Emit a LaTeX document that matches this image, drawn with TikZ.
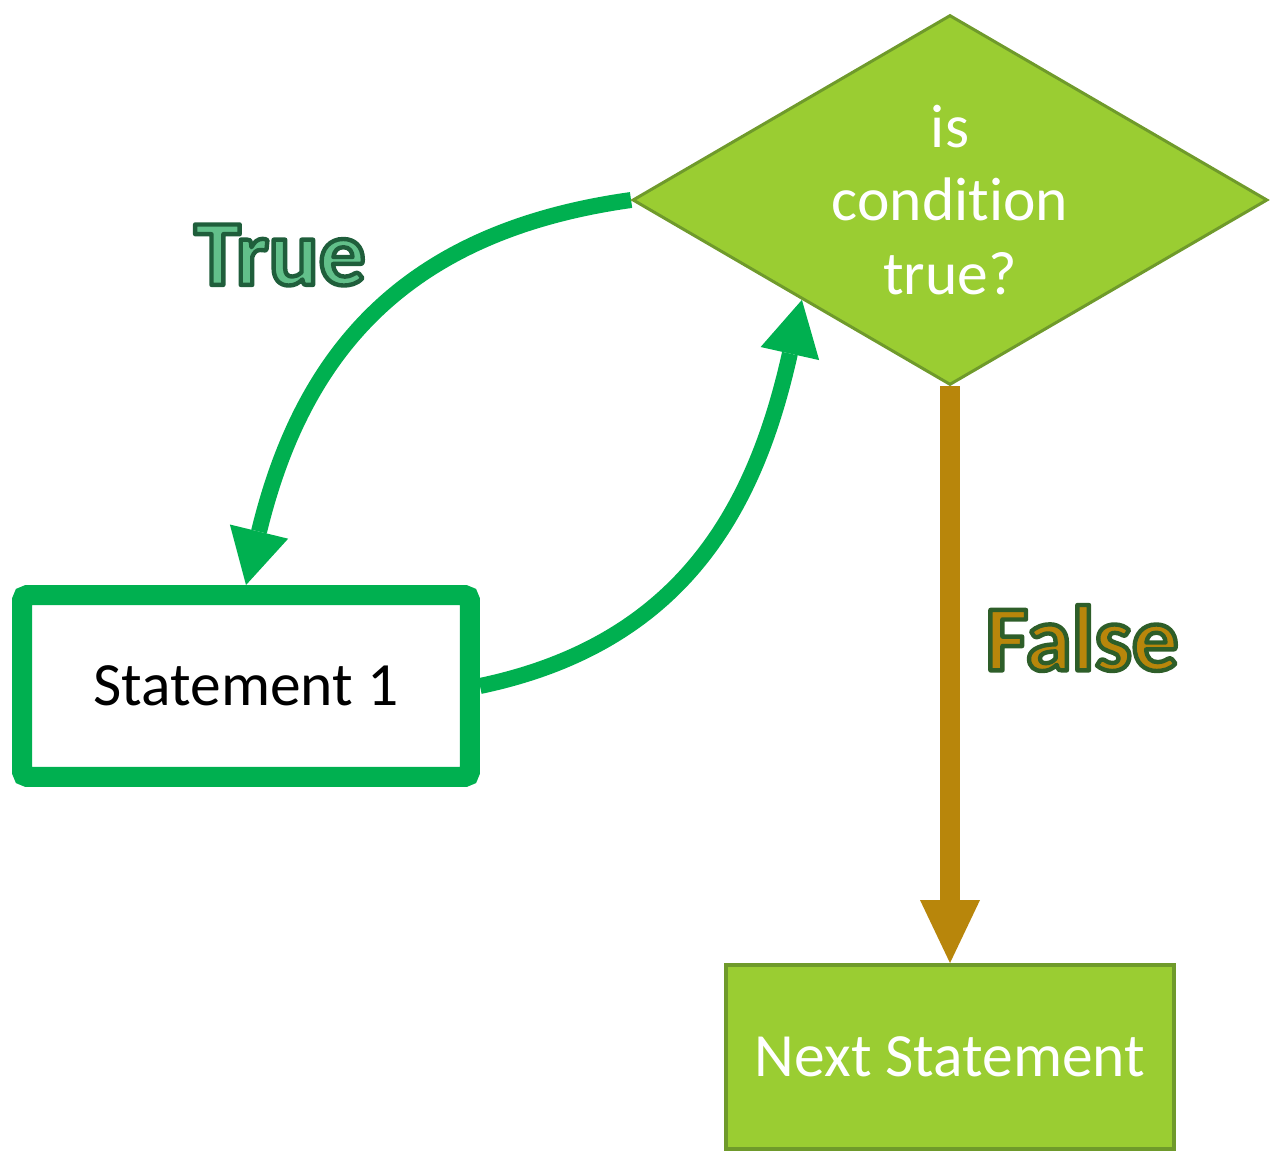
\documentclass[tikz,border=0pt]{standalone}
\usepackage{xcolor}
\usepackage{fontspec}
\setmainfont{Carlito}[Ligatures=NoCommon]
\usepackage{tikz}
\usetikzlibrary{calc,positioning,arrows.meta,shapes.geometric,backgrounds}

\definecolor{truegreen}{HTML}{00B050}
\definecolor{condgreen}{HTML}{9ACD32}
\definecolor{condedge}{HTML}{6F9A2B}
\definecolor{falsegold}{HTML}{B8860B}
\definecolor{truefill}{HTML}{62C08A}

% text with a dark outline: #1 stroke rgb, #2 fill colour, #3 text
\newcommand{\outlinedtext}[3]{%
  {\color{#2}\special{pdf:literal direct #1 RG 1 j 2.5 w 2 Tr}#3\special{pdf:literal direct 0 Tr}}}

\begin{document}
\begin{tikzpicture}[x=0.02cm, y=-0.02cm, align=center,
    font=\fontsize{35}{42}\selectfont,
    truearrow/.style={truegreen, line width=0.32cm, -{Triangle[width=1.2cm, length=1.1cm, line width=0pt]}},
    falsearrow/.style={falsegold, line width=0.4cm, -{Triangle[width=1.2cm, length=1.26cm, line width=0pt]}},
    biglabel/.style={font=\fontsize{53}{60}\selectfont\bfseries}]
    \useasboundingbox (0,0) rectangle (1281,1166);

    \node [diamond, draw=condedge, line width=0.06cm, fill=condgreen, text=white, aspect=1.716, inner sep=0pt, minimum width=12.7cm, minimum height=7.4cm] (cond) at (950,200) {is\\condition\\true?};

    \node [draw=truegreen, line width=0.4cm, rounded corners=3pt, fill=white, minimum width=8.96cm, minimum height=3.64cm] (stmt) at (246,686) {Statement 1};

    \node [draw=condedge, line width=0.08cm, fill=condgreen, text=white, minimum width=8.96cm, minimum height=3.68cm] (next) at (950,1057) {Next Statement};

    \node [biglabel] (truelabel) at (280,255) {\outlinedtext{0.12 0.37 0.23}{truefill}{True}};
    \node [biglabel] (falselabel) at (1082,638) {\outlinedtext{0.18 0.37 0.16}{falsegold}{False}};

    \begin{scope}[on background layer]
        \draw [truearrow] (cond.west) .. controls (402,232) and (302,355) .. (stmt.north);
        \draw [truearrow] (stmt.east) .. controls (685,643) and (756,505) .. (cond.-146);
        \draw [falsearrow] (cond.south) -- (next.north);
    \end{scope}

\end{tikzpicture}
\end{document}
